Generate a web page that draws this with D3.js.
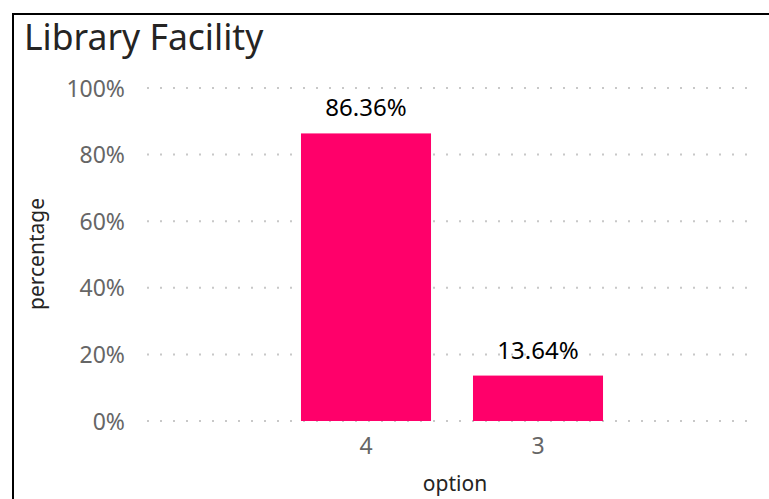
<!DOCTYPE html>
<html><head><meta charset="utf-8">
<script src="https://cdn.jsdelivr.net/npm/d3@7"></script>
<style>
html,body{margin:0;padding:0;background:#fff;}
svg{display:block;}
</style></head>
<body>
<script>
const categories = ["4", "3"];
const values = [86.36, 13.64];
const yTicks = [0, 20, 40, 60, 80, 100];
const title = "Library Facility";
const xTitle = "option";
const yTitle = "percentage";

const W = 769, H = 499;
const FONT = "Noto Sans, Open Sans, sans-serif";
const svg = d3.select("body").append("svg").attr("width", W).attr("height", H);

// border
svg.append("path").attr("d", "M13,499 L13,14 L769,14")
  .attr("fill", "none").attr("stroke", "#000").attr("stroke-width", 2);

svg.append("text").attr("x", 24).attr("y", 50)
  .attr("font-family", FONT).attr("font-size", 35.5)
  .attr("fill", "#252423").text(title);

const plotL = 147, plotR = 756;
const y = d3.scaleLinear().domain([0, 100]).range([421, 88]);
const x = d3.scaleBand().domain(categories).range([280, 624]).paddingInner(0.244).paddingOuter(0.122);

// gridlines
const grid = svg.append("g");
yTicks.forEach(t => {
  grid.append("line").attr("x1", plotL).attr("x2", plotR)
    .attr("y1", y(t)).attr("y2", y(t))
    .attr("stroke", "#c8c8c8").attr("stroke-width", 2)
    .attr("stroke-dasharray", "2,11");
});

// y axis
const yAxis = d3.axisLeft(y).tickValues(yTicks).tickSize(0).tickPadding(0).tickFormat(d => d + "%");
const ya = svg.append("g").attr("transform", "translate(125,0)").call(yAxis);
ya.select(".domain").remove();
ya.selectAll("text").attr("font-family", FONT)
  .attr("font-size", 23).attr("fill", "#666").attr("dy", "0.35em");

// x axis
const xAxis = d3.axisBottom(x).tickSize(0).tickPadding(0);
const xa = svg.append("g").attr("transform", "translate(0,438)").call(xAxis);
xa.select(".domain").remove();
xa.selectAll("text").attr("font-family", FONT)
  .attr("font-size", 23).attr("fill", "#666").attr("dy", "0.71em");

// bars
svg.append("g").selectAll("rect").data(values).join("rect")
  .attr("x", (d, i) => x(categories[i]))
  .attr("width", x.bandwidth())
  .attr("y", d => y(d))
  .attr("height", d => y(0) - y(d))
  .attr("fill", "#FF006A");

// labels
svg.append("g").selectAll("text").data(values).join("text")
  .attr("x", (d, i) => x(categories[i]) + x.bandwidth() / 2)
  .attr("y", d => y(d) - 17)
  .attr("text-anchor", "middle")
  .attr("font-family", FONT).attr("font-size", 24)
  .attr("fill", "#000").text(d => d.toFixed(2) + "%");

// axis titles
svg.append("text").attr("x", 455).attr("y", 491).attr("text-anchor", "middle")
  .attr("font-family", FONT).attr("font-size", 21)
  .attr("fill", "#252423").text(xTitle);
svg.append("text").attr("transform", "translate(44,254) rotate(-90)").attr("text-anchor", "middle")
  .attr("font-family", FONT).attr("font-size", 21)
  .attr("fill", "#252423").text(yTitle);
</script>
</body></html>
